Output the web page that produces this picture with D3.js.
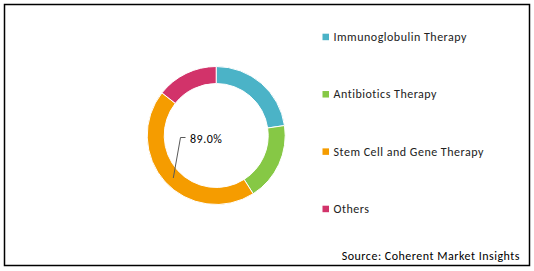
<!DOCTYPE html>
<html>
<head>
<meta charset="utf-8">
<script src="https://cdn.jsdelivr.net/npm/d3@7"></script>
<style>
  body { margin: 0; background: #fff; }
  text { font-family: Carlito, Calibri, Lato, sans-serif; letter-spacing: 0.5px; }
</style>
</head>
<body>
<svg width="534" height="271"></svg>
<script>
const categories = ["Immunoglobulin Therapy", "Antibiotics Therapy", "Stem Cell and Gene Therapy", "Others"];
const shares = [22.7, 18.3, 44.6, 14.4];
const colors = ["#4BB3C7", "#86C845", "#F59C00", "#D2336A"];
const labelText = "89.0%";
const sourceText = "Source: Coherent Market Insights";

const svg = d3.select("svg");
const width = +svg.attr("width");
const height = +svg.attr("height");

// frame
svg.append("rect")
  .attr("x", 4.5).attr("y", 4.5)
  .attr("width", 525).attr("height", 261)
  .attr("fill", "none")
  .attr("stroke", "#000")
  .attr("stroke-width", 1.5);

const cx = 216.2, cy = 135.5;
const pie = d3.pie().sort(null).value((d) => d);
const arc = d3.arc().innerRadius(52).outerRadius(69);

const g = svg.append("g").attr("transform", `translate(${cx},${cy})`);
g.selectAll("path")
  .data(pie(shares))
  .enter()
  .append("path")
  .attr("d", arc)
  .attr("fill", (d, i) => colors[i])
  .attr("stroke", "#fff")
  .attr("stroke-width", 1);

// leader line + label on the stem cell slice
svg.append("polyline")
  .attr("points", "173.3,178 180.5,137.5 185.5,137.5")
  .attr("fill", "none")
  .attr("stroke", "#595959")
  .attr("stroke-width", 1);

svg.append("text")
  .attr("x", 190).attr("y", 142.5)
  .attr("font-size", 12)
  .attr("fill", "#000")
  .text(labelText);

// legend
const legendY = d3.scalePoint().domain(categories).range([37, 209]);
const legend = svg.selectAll(".leg")
  .data(categories)
  .enter()
  .append("g")
  .attr("class", "leg")
  .attr("transform", (d) => `translate(322.5,${legendY(d)})`);

legend.append("rect")
  .attr("x", 0).attr("y", -3.3)
  .attr("width", 6.5).attr("height", 6.5)
  .attr("fill", (d, i) => colors[i]);

legend.append("text")
  .attr("x", 11).attr("y", 4)
  .attr("font-size", 12)
  .attr("fill", "#222")
  .text((d) => d);

svg.append("text")
  .attr("x", 520).attr("y", 260)
  .attr("text-anchor", "end")
  .attr("font-size", 12)
  .attr("fill", "#000")
  .text(sourceText);
</script>
</body>
</html>
